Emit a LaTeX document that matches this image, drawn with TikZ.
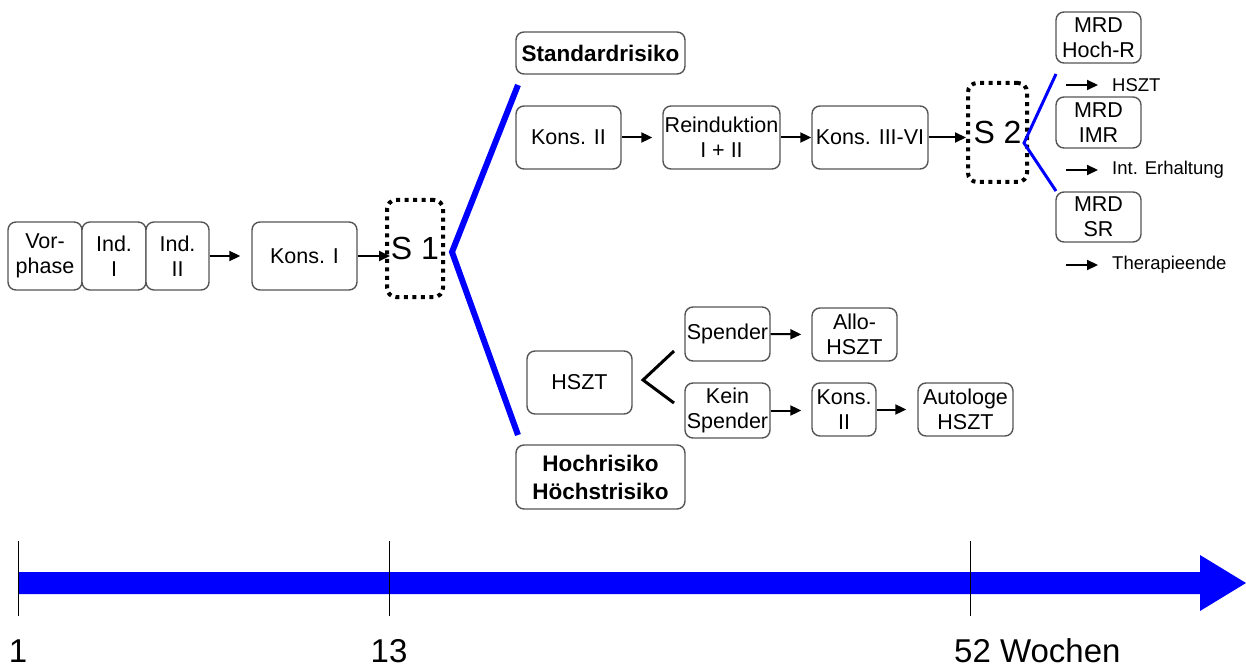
\documentclass[tikz,border=0pt]{standalone}
\usepackage{fontspec}
\setmainfont{Liberation Sans}
\usetikzlibrary{arrows.meta}
\definecolor{pureblue}{RGB}{0,0,255}
\definecolor{boxline}{RGB}{85,85,85}
\begin{document}
\begin{tikzpicture}[x=1pt,y=-1pt,
  box/.style={draw=boxline,line width=1.4pt,rounded corners=8pt,fill=white,
    inner sep=0pt,align=center,font=\fontsize{21.5}{25}\selectfont},
  riskbox/.style={box,font=\fontsize{22.5}{28}\selectfont\bfseries},
  stage/.style={draw=black,line width=4pt,dash pattern=on 4pt off 4.5pt,
    rounded corners=9pt,inner sep=0pt,font=\fontsize{32}{32}\selectfont},
  arr/.style={line width=2pt,-{Triangle[length=11pt,width=10pt]}},
  branch/.style={pureblue,line width=6pt},
  note/.style={anchor=west,inner sep=0pt,font=\fontsize{18.5}{20}\selectfont},
  tick/.style={line width=0.9pt},
  week/.style={inner sep=0pt,anchor=base,font=\fontsize{33}{33}\selectfont}]
\useasboundingbox (0,0) rectangle (1246,668);

% --- induction and first consolidation
\node[box,minimum width=74pt,minimum height=68pt] (vor) at (45,256) {Vor-\\phase};
\node[box,minimum width=64pt,minimum height=68pt] (ind1) at (114,256) {Ind.\\I};
\node[box,minimum width=63pt,minimum height=68pt] (ind2) at (177.5,256) {Ind.\\II};
\node[box,minimum width=105pt,minimum height=68pt] (kons1) at (304.5,256) {Kons. I};
\node[stage,minimum width=56pt,minimum height=97pt] (s1) at (415,248.5) {S 1};

\draw[arr,shorten >=11pt] (ind2.east) -- (kons1.west);
\draw[arr] (kons1.east) -- ([xshift=5pt]kons1.east -| s1.west);

% --- risk branches after S 1
\coordinate (fork1) at (452,252);
\coordinate (up1) at (518,85);
\coordinate (down1) at (518,435);
\draw[branch] (up1) -- (fork1) -- (down1);

\node[riskbox,minimum width=169pt,minimum height=42pt] (std) at (600.5,53) {Standardrisiko};
\node[riskbox,minimum width=169pt,minimum height=64pt] (hoch) at (600.5,477) {Hochrisiko\\Höchstrisiko};

% --- standard risk arm
\node[box,minimum width=105pt,minimum height=63pt] (k2) at (568.5,137.5) {Kons. II};
\node[box,minimum width=117pt,minimum height=63pt] (rein) at (721.5,137.5) {Reinduktion\\I + II};
\node[box,minimum width=116pt,minimum height=63pt] (k36) at (870,137.5) {Kons. III-VI};
\node[stage,minimum width=59pt,minimum height=99pt] (s2) at (997.5,132.5) {S 2};

\draw[arr,shorten >=10pt] (k2.east) -- (rein.west);
\draw[arr] (rein.east) -- (k36.west);
\draw[arr] (k36.east) -- (k36.east -| s2.west);

% --- MRD groups after S 2
\coordinate (fork2) at (1024,143);
\coordinate (up2) at (1056,74);
\coordinate (down2) at (1056,191);
\draw[pureblue,line width=3pt] (up2) -- (fork2) -- (down2);

\node[box,minimum width=85pt,minimum height=51pt] (mrdh) at (1098.5,37.5) {MRD\\Hoch-R};
\node[box,minimum width=85pt,minimum height=51pt] (mrdi) at (1098.5,122.5) {MRD\\IMR};
\node[box,minimum width=85pt,minimum height=50pt] (mrds) at (1098.5,217) {MRD\\SR};

\node[note] (outh) at (1112,85) {HSZT};
\node[note] (outi) at (1112,170) {Int. Erhaltung};
\node[note] (outs) at (1112,265) {Therapieende};
\coordinate (ah) at (1066,85);
\coordinate (ai) at (1066,170);
\coordinate (as) at (1066,265);
\draw[arr,shorten >=14pt] (ah) -- (outh.west);
\draw[arr,shorten >=14pt] (ai) -- (outi.west);
\draw[arr,shorten >=14pt] (as) -- (outs.west);

% --- high risk arm
\node[box,minimum width=105pt,minimum height=63pt] (hszt) at (579.5,382.5) {HSZT};
\coordinate (spup) at (674,351);
\coordinate (spmid) at (643,380);
\coordinate (spdown) at (674,403);
\draw[line width=3pt] (spup) -- (spmid) -- (spdown);

\node[box,minimum width=85pt,minimum height=54pt] (spender) at (727.5,334) {Spender};
\node[box,minimum width=85pt,minimum height=53pt] (allo) at (854.5,334.5) {Allo-\\HSZT};
\node[box,minimum width=85pt,minimum height=55pt] (kein) at (727.5,410.5) {Kein\\Spender};
\node[box,minimum width=64pt,minimum height=53pt] (k2b) at (844,409.5) {Kons.\\II};
\node[box,minimum width=95pt,minimum height=53pt] (auto) at (965.5,409.5) {Autologe\\HSZT};

\draw[arr,shorten >=10pt] (spender.east) -- (allo.west);
\draw[arr,shorten >=10pt] (kein.east) -- (kein.east -| k2b.west);
\draw[arr,shorten >=11pt] (k2b.east) -- (k2b.east -| auto.west);

% --- time axis
\fill[pureblue] (18,572) -- (1200,572) -- (1200,555) -- (1246,583)
  -- (1200,611) -- (1200,594) -- (18,594) -- cycle;
\draw[tick] (18,541) -- (18,616);
\draw[tick] (389,541) -- (389,616);
\draw[tick] (970,541) -- (970,616);
\node[week] (w1) at (18,662) {1};
\node[week] (w13) at (389,662) {13};
\node[week,anchor=base west] (w52) at (954,662) {52 Wochen};
\end{tikzpicture}
\end{document}
